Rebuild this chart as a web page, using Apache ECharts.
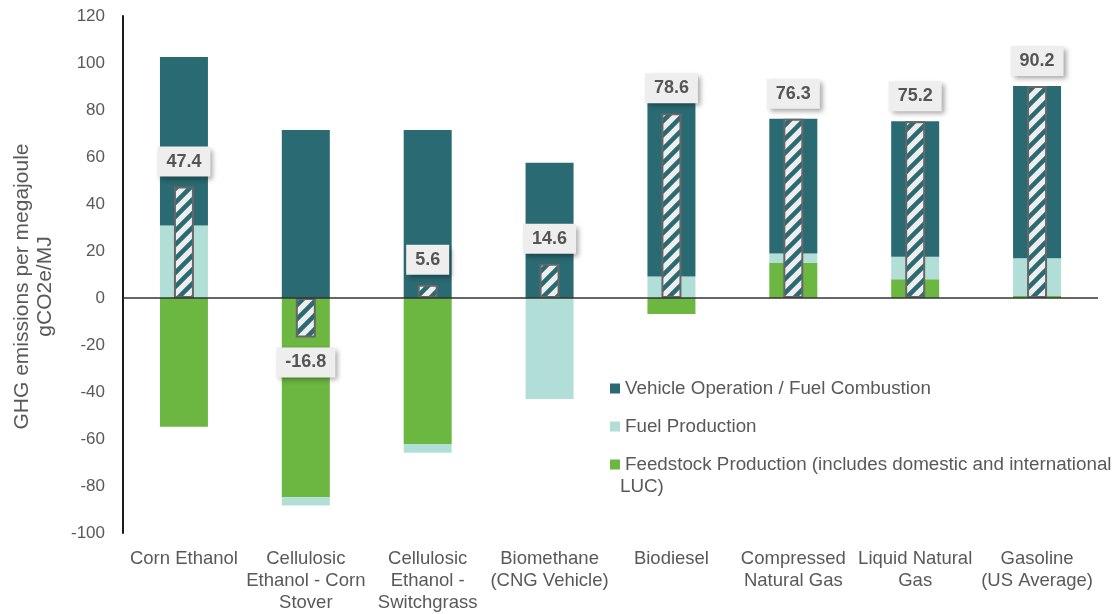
<!DOCTYPE html>
<html>
<head>
<meta charset="utf-8">
<script src="https://cdn.jsdelivr.net/npm/echarts@6/dist/echarts.min.js"></script>
<style>
  html, body { margin: 0; padding: 0; background: #ffffff; }
  #chart { width: 1116px; height: 614px; }
</style>
</head>
<body>
<div id="chart"></div>
<script>
// Lifecycle GHG emissions by fuel pathway (gCO2e per MJ)
const categories = [
  'Corn Ethanol',
  'Cellulosic\nEthanol - Corn\nStover',
  'Cellulosic\nEthanol -\nSwitchgrass',
  'Biomethane\n(CNG Vehicle)',
  'Biodiesel',
  'Compressed\nNatural Gas',
  'Liquid Natural\nGas',
  'Gasoline\n(US Average)'
];
const feedstockProduction = [-54.8, -84.8, -62.1, 0, -6.8, 14.9, 8.0, 0.9];
const fuelProduction      = [30.8, -3.5, -3.8, -43.0, 9.1, 4.0, 9.6, 16.0];
const vehicleOperation    = [71.8, 71.5, 71.5, 57.6, 74.2, 57.4, 57.6, 73.3];
const netEmissions        = [47.4, -16.8, 5.6, 14.6, 78.6, 76.3, 75.2, 90.2];

const NAME_VEHICLE = 'Vehicle Operation / Fuel Combustion';
const NAME_FUEL = 'Fuel Production';
const NAME_FEED = 'Feedstock Production (includes domestic and international LUC)';

const FONT = '"Liberation Sans", Arial, Helvetica, sans-serif';
const TEXT_GREY = '#595959';

// diagonal stripe tile for the net-emissions bars
function stripeTile() {
  const size = 14;
  const c = document.createElement('canvas');
  c.width = size; c.height = size;
  const g = c.getContext('2d');
  g.fillStyle = '#eeeeee';
  g.fillRect(0, 0, size, size);
  g.strokeStyle = '#2a6b73';
  g.lineWidth = 4.5;
  g.beginPath();
  for (let k = -1; k <= 1; k++) {
    g.moveTo(k * size - 2, size + 2);
    g.lineTo(k * size + size + 2, -2);
  }
  g.stroke();
  return c;
}

const chart = echarts.init(document.getElementById('chart'), null, { renderer: 'canvas' });

chart.setOption({
  animation: false,
  textStyle: { fontFamily: FONT },
  grid: { left: 123, right: 18, top: 16, bottom: 78, containLabel: false },
  legend: {
    orient: 'vertical',
    left: 605,
    top: 374,
    itemWidth: 10,
    itemHeight: 10,
    itemGap: 19,
    icon: 'rect',
    selectedMode: false,
    data: [NAME_VEHICLE, NAME_FUEL, NAME_FEED],
    formatter: function (name) {
      return name === NAME_FEED ? 'Feedstock Production (includes domestic and international' : name;
    },
    textStyle: { fontSize: 18.8, color: TEXT_GREY, fontFamily: FONT }
  },
  graphic: [{
    type: 'text',
    left: 620,
    top: 477,
    style: { text: 'LUC)', font: '18.8px ' + FONT, fill: TEXT_GREY }
  }],
  xAxis: [{
    type: 'category',
    data: categories,
    axisLine: { show: false },
    axisTick: { show: false },
    axisLabel: {
      interval: 0,
      margin: 15,
      fontSize: 18.5,
      lineHeight: 22,
      color: TEXT_GREY,
      fontFamily: FONT
    }
  }, {
    type: 'category',
    data: categories,
    show: false
  }],
  yAxis: {
    type: 'value',
    min: -100,
    max: 120,
    interval: 20,
    splitLine: { show: false },
    axisTick: { show: false },
    axisLine: { show: true, lineStyle: { color: '#1a1a1a', width: 2 } },
    axisLabel: { fontSize: 17, color: TEXT_GREY, margin: 18, fontFamily: FONT },
    name: 'GHG emissions per megajoule\ngCO2e/MJ',
    nameLocation: 'middle',
    nameRotate: 90,
    nameGap: 66,
    nameTextStyle: {
      fontSize: 21, color: TEXT_GREY, lineHeight: 23, fontFamily: FONT,
      padding: [0, 24, 0, 0]
    }
  },
  series: [
    {
      name: NAME_FEED, type: 'bar', stack: 'total', barWidth: 48,
      xAxisIndex: 0, data: feedstockProduction,
      itemStyle: { color: '#6cb642' }
    },
    {
      name: NAME_FUEL, type: 'bar', stack: 'total', barWidth: 48,
      xAxisIndex: 0, data: fuelProduction,
      itemStyle: { color: '#b1dfd8' }
    },
    {
      name: NAME_VEHICLE, type: 'bar', stack: 'total', barWidth: 48,
      xAxisIndex: 0, data: vehicleOperation,
      itemStyle: { color: '#2a6a72' }
    },
    {
      name: 'Net', type: 'bar', barWidth: 20,
      xAxisIndex: 1, data: netEmissions,
      itemStyle: {
        color: { image: stripeTile(), repeat: 'repeat' },
        borderColor: '#666666',
        borderWidth: 2
      },
      label: {
        show: true,
        position: 'outside',
        distance: 10,
        formatter: function (p) { return p.value.toFixed(1); },
        fontSize: 18,
        fontWeight: 'bold',
        color: '#555555',
        fontFamily: FONT,
        backgroundColor: '#eeeeee',
        padding: [6, 9, 6, 9],
        shadowColor: 'rgba(0,0,0,0.35)',
        shadowBlur: 5,
        shadowOffsetX: 3,
        shadowOffsetY: 3
      },
      markLine: {
        silent: true,
        symbol: 'none',
        label: { show: false },
        lineStyle: { color: '#333333', width: 1.5, type: 'solid' },
        data: [{ yAxis: 0 }]
      },
      z: 3
    }
  ]
});
</script>
</body>
</html>
